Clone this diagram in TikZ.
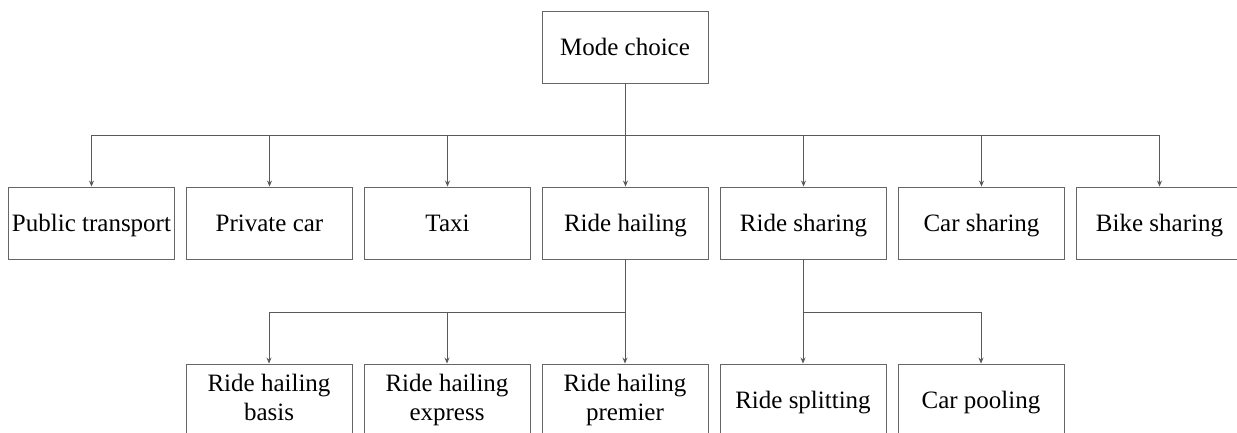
\documentclass[tikz,border=0pt]{standalone}
\usepackage{fontspec}
\setmainfont{Liberation Serif}
\usetikzlibrary{positioning,arrows.meta}

\tikzset{
  modebox/.style={draw=black!60,line width=0.9pt,minimum width=166pt,minimum height=72pt,
    inner sep=0pt,align=center,font=\fontsize{25}{29}\selectfont,
    text height=16.5pt,text depth=0pt},
  twoline/.style={modebox,text height=40pt},
  conn/.style={draw=black!65,line width=0.9pt},
  arr/.style={conn,-{Stealth[length=6pt,width=5pt]}}
}

\begin{document}
\begin{tikzpicture}[x=1pt,y=1pt,node distance=11.1pt]
    \useasboundingbox (0,0) rectangle (1237,432);
    % top
    \node[modebox] (mode) at (625,385) {Mode choice};
    % first level
    \node[modebox] (pub) at (91.5,209) {Public transport};
    \node[modebox,right=of pub] (priv) {Private car};
    \node[modebox,right=of priv] (taxi) {Taxi};
    \node[modebox,right=of taxi] (hail) {Ride hailing};
    \node[modebox,right=of hail] (share) {Ride sharing};
    \node[modebox,right=of share] (carsh) {Car sharing};
    \node[modebox,right=of carsh] (bike) {Bike sharing};
    % second level
    \node[twoline] (basis) at (269,32) {Ride hailing\\basis};
    \node[twoline,right=of basis] (express) {Ride hailing\\express};
    \node[twoline,right=of express] (premier) {Ride hailing\\premier};
    \node[modebox,right=of premier] (split) {Ride splitting};
    \node[modebox,right=of split] (pool) {Car pooling};
    % bus lines
    \coordinate (bus) at (0,297);
    \coordinate (bushail) at (0,120);
    \foreach \n in {pub,priv,taxi,hail,share,carsh,bike}
        \draw[arr] (mode.south) |- (bus -| \n) -- (\n.north);
    \foreach \n in {basis,express,premier}
        \draw[arr] (hail.south) |- (bushail -| \n) -- (\n.north);
    \foreach \n in {split,pool}
        \draw[arr] (share.south) |- (bushail -| \n) -- (\n.north);
\end{tikzpicture}
\end{document}
